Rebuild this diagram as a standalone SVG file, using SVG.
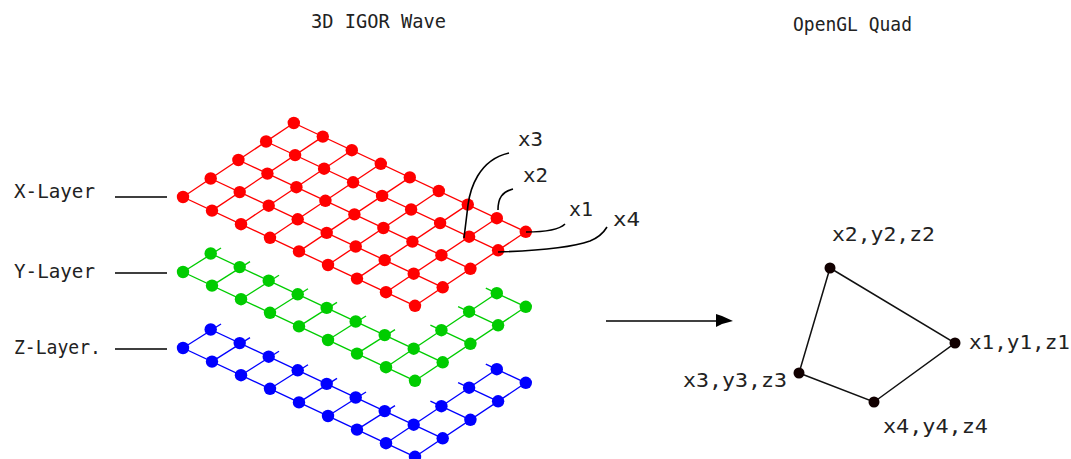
<svg xmlns="http://www.w3.org/2000/svg" xmlns:xlink="http://www.w3.org/1999/xlink" width="1071" height="459" viewBox="0 0 1071 459">
<style>
text{font-family:"DejaVu Sans Mono","Liberation Mono",monospace;font-size:19.5px;fill:#222;stroke:none}
.mesh{stroke-width:1.35;fill:none}
.pt{stroke:none}
.red{fill:#f00;stroke:#f00}
.green{fill:#00cc00;stroke:#00cc00}
.blue{fill:#00f;stroke:#00f}
.lead{fill:none;stroke:#000;stroke-width:1.6}
.quad{fill:none;stroke:#111;stroke-width:1.5}
.v{fill:#100;stroke:none}
</style>
<defs>
<g id="row">
<path class="mesh" d="M0 0L232 108.8"/>
<circle class="pt" cx="0" cy="0" r="6.2"/><circle class="pt" cx="29" cy="13.6" r="6.2"/><circle class="pt" cx="58" cy="27.2" r="6.2"/><circle class="pt" cx="87" cy="40.8" r="6.2"/><circle class="pt" cx="116" cy="54.4" r="6.2"/><circle class="pt" cx="145" cy="68" r="6.2"/><circle class="pt" cx="174" cy="81.6" r="6.2"/><circle class="pt" cx="203" cy="95.2" r="6.2"/><circle class="pt" cx="232" cy="108.8" r="6.2"/>
</g>
<path id="cross" class="mesh" d="M0 0L110.8 -74"/>
<path id="stubbed" class="mesh" d="M0 0L38 -24"/>
<g id="seg">
<path class="mesh" d="M-11 -5L29 13.6"/>
<circle class="pt" cx="0" cy="0" r="6.2"/><circle class="pt" cx="29" cy="13.6" r="6.2"/>
</g>
<g id="partial">
<use href="#stubbed" x="0" y="0"/><use href="#stubbed" x="29" y="13.6"/><use href="#stubbed" x="58" y="27.2"/><use href="#stubbed" x="87" y="40.8"/><use href="#stubbed" x="116" y="54.4"/><use href="#stubbed" x="145" y="68"/><use href="#stubbed" x="174" y="81.6"/>
<use href="#cross" x="203" y="95.2"/><use href="#cross" x="232" y="108.8"/>
<use href="#row" x="0" y="0"/><use href="#row" x="27.7" y="-18.5"/>
<use href="#seg" x="258.4" y="58.2"/><use href="#seg" x="286.1" y="39.7"/><use href="#seg" x="313.8" y="21.2"/>
</g>
</defs>
<rect width="1071" height="459" fill="#fff"/>
<g id="title-igor"><text x="311" y="28" textLength="135" lengthAdjust="spacingAndGlyphs">3D IGOR Wave</text></g>
<g id="title-opengl"><text x="793" y="31" textLength="119" lengthAdjust="spacingAndGlyphs">OpenGL Quad</text></g>
<g id="x-layer" class="red">
<use href="#cross" x="183" y="197"/><use href="#cross" x="212" y="210.6"/><use href="#cross" x="241" y="224.2"/><use href="#cross" x="270" y="237.8"/><use href="#cross" x="299" y="251.4"/><use href="#cross" x="328" y="265"/><use href="#cross" x="357" y="278.6"/><use href="#cross" x="386" y="292.2"/><use href="#cross" x="415" y="305.8"/>
<use href="#row" x="183" y="197"/><use href="#row" x="210.7" y="178.5"/><use href="#row" x="238.4" y="160"/><use href="#row" x="266.1" y="141.5"/><use href="#row" x="293.8" y="123"/>
</g>
<g id="y-layer" class="green"><use href="#partial" x="183" y="272"/></g>
<g id="z-layer" class="blue"><use href="#partial" x="183" y="348"/></g>
<g id="label-x"><text x="14" y="198" textLength="81" lengthAdjust="spacingAndGlyphs">X-Layer</text></g>
<g id="label-y"><text x="14" y="278" textLength="81" lengthAdjust="spacingAndGlyphs">Y-Layer</text></g>
<g id="label-z"><text x="14" y="354" textLength="87" lengthAdjust="spacingAndGlyphs">Z-Layer.</text></g>
<g id="label-x3"><text x="518" y="146" textLength="25" lengthAdjust="spacingAndGlyphs">x3</text></g>
<g id="label-x2"><text x="523" y="182" textLength="25" lengthAdjust="spacingAndGlyphs">x2</text></g>
<g id="label-x1"><text x="569" y="216" textLength="24" lengthAdjust="spacingAndGlyphs">x1</text></g>
<g id="label-x4"><text x="613" y="226" textLength="27" lengthAdjust="spacingAndGlyphs">x4</text></g>
<g id="connectors">
<path class="lead" d="M115 197H167M115 273H167M115 349H167"/>
<path class="lead" d="M464 238L468 205C470 190 478 160 509 153"/>
<path class="lead" d="M498 210C498 198 502 192 513 189"/>
<path class="lead" d="M526 232C540 232 558 231 565 224"/>
<path class="lead" d="M498 252C530 251 570 248 590 241C600 237 604 232 607 227"/>
<path class="lead" d="M606 321H722"/>
<polygon fill="#000" points="716,314 722,316 733,321 722,324 716,327"/>
<path class="quad" d="M830 268L955 343L874 402L799 373Z"/>
</g>
<g id="v2"><circle class="v" cx="830" cy="268" r="5.5"/><text x="832" y="241" textLength="103" lengthAdjust="spacingAndGlyphs">x2,y2,z2</text></g>
<g id="v1"><circle class="v" cx="955" cy="343" r="5.5"/><text x="969" y="349" textLength="101" lengthAdjust="spacingAndGlyphs">x1,y1,z1</text></g>
<g id="v3"><circle class="v" cx="799" cy="373" r="5.5"/><text x="683" y="387" textLength="104" lengthAdjust="spacingAndGlyphs">x3,y3,z3</text></g>
<g id="v4"><circle class="v" cx="874" cy="402" r="5.5"/><text x="883" y="433" textLength="105" lengthAdjust="spacingAndGlyphs">x4,y4,z4</text></g>
</svg>
